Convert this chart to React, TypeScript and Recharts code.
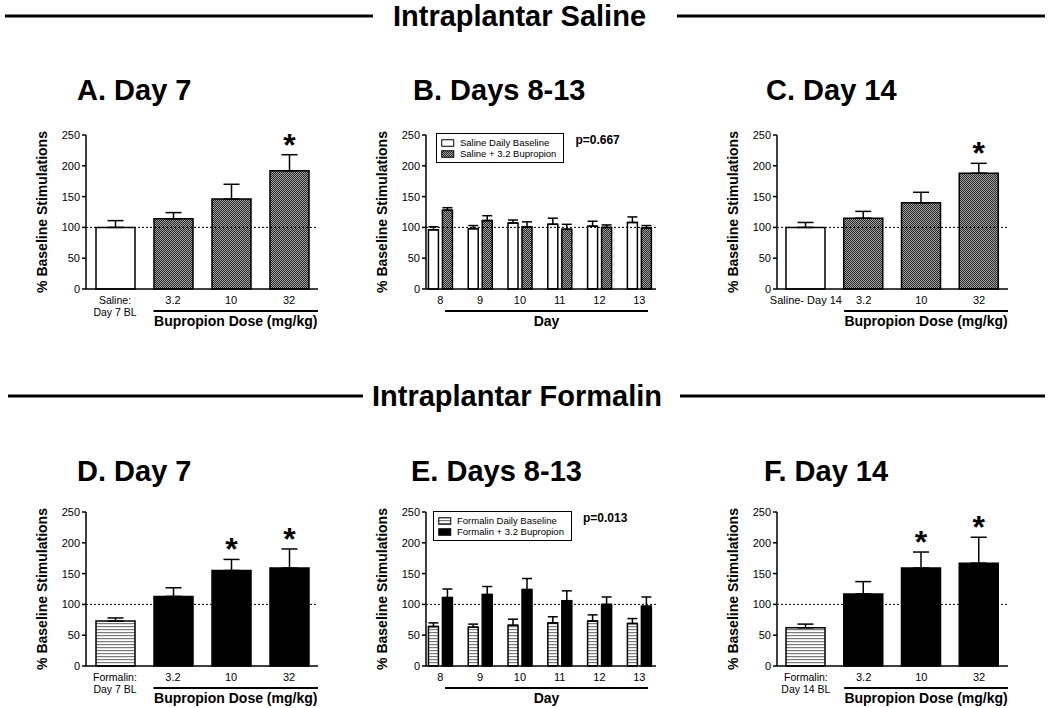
import React from 'react';
import { BarChart, Bar, XAxis, YAxis, ErrorBar, ReferenceLine, LabelList, Legend, Cell } from 'recharts';

const FONT = '"Liberation Sans", Arial, Helvetica, sans-serif';

// ---- data ----
const yTicks = [0, 50, 100, 150, 200, 250];
const doseLabels = ['3.2', '10', '32'];
const days = [8, 9, 10, 11, 12, 13];

// A. saline, day 7
const salineDay7Labels = ['Saline:\nDay 7 BL', ...doseLabels];
const salineDay7Mean = [100, 114, 146, 192];
const salineDay7Sem = [11, 10, 24, 26];
const salineDay7Sig = [false, false, false, true];

// B. saline, days 8-13
const salineDailyName = 'Saline Daily Baseline';
const salineDailyMean = [96, 98, 107, 105, 102, 108];
const salineDailySem = [5, 5, 5, 10, 8, 9];
const salineBupName = 'Saline + 3.2 Bupropion';
const salineBupMean = [128, 111, 101, 97, 100, 99];
const salineBupSem = [4, 8, 8, 8, 4, 4];
const salineP = 'p=0.667';

// C. saline, day 14
const salineDay14Labels = ['Saline- Day 14', ...doseLabels];
const salineDay14Mean = [100, 115, 140, 188];
const salineDay14Sem = [8, 11, 17, 16];
const salineDay14Sig = [false, false, false, true];

// D. formalin, day 7
const formalinDay7Labels = ['Formalin:\nDay 7 BL', ...doseLabels];
const formalinDay7Mean = [73, 113, 155, 159];
const formalinDay7Sem = [5, 14, 18, 31];
const formalinDay7Sig = [false, false, true, true];

// E. formalin, days 8-13
const formalinDailyName = 'Formalin Daily Baseline';
const formalinDailyMean = [64, 63, 66, 70, 73, 69];
const formalinDailySem = [6, 5, 10, 10, 10, 8];
const formalinBupName = 'Formalin + 3.2 Bupropion';
const formalinBupMean = [111, 116, 124, 106, 100, 97];
const formalinBupSem = [14, 13, 18, 16, 12, 15];
const formalinP = 'p=0.013';

// F. formalin, day 14
const formalinDay14Labels = ['Formalin:\nDay 14 BL', ...doseLabels];
const formalinDay14Mean = [62, 117, 159, 167];
const formalinDay14Sem = [6, 20, 26, 42];
const formalinDay14Sig = [false, false, true, true];

const WHITE = '#ffffff';
const CHECK = 'url(#chk)';
const STRIPE = 'url(#hstripe)';
const BLACK = '#000000';

const PLOT_H = 154;
const Y_AXIS_W = 86;

function doseRows(labels: string[], mean: number[], sem: number[], sig: boolean[]) {
  return labels.map((label, i) => ({ label, mean: mean[i], err: [0, sem[i]], star: sig[i] ? '*' : '' }));
}

function dayRows(bm: number[], bs: number[], dm: number[], ds: number[]) {
  return days.map((day, i) => ({ day, base: bm[i], baseErr: [0, bs[i]], drug: dm[i], drugErr: [0, ds[i]] }));
}

const MultiTick = (props: any) => {
  const { x, y, payload } = props;
  const lines = String(payload.value).split('\n');
  return (
    <text x={x} y={y} textAnchor="middle" fontSize={lines.length > 1 ? 10.5 : 11} fill="#000">
      {lines.map((l, i) => (
        <tspan key={i} x={x} dy={i === 0 ? 15 : 12}>{l}</tspan>
      ))}
    </text>
  );
};

const yLabel = (props: any) => {
  const vb = props.viewBox;
  if (!vb) return null;
  const cx = vb.x + 42;
  const cy = vb.y + vb.height / 2;
  return (
    <text x={cx} y={cy} transform={`rotate(-90 ${cx} ${cy})`} textAnchor="middle" dominantBaseline="central"
      fontSize={14} fontWeight="bold" fill="#000">
      % Baseline Stimulations
    </text>
  );
};

const doseAxisLabel = (props: any) => {
  const vb = props.viewBox;
  if (!vb) return null;
  const band = vb.width / 4;
  const x1 = vb.x + band + (band - 39) / 2;
  const x2 = vb.x + vb.width;
  return (
    <g>
      <line x1={x1} x2={x2} y1={vb.y + 22} y2={vb.y + 22} stroke="#000" strokeWidth={2} />
      <text x={(x1 + x2) / 2} y={vb.y + 37} textAnchor="middle" fontSize={14} fontWeight="bold" fill="#000">
        Bupropion Dose (mg/kg)
      </text>
    </g>
  );
};

const dayAxisLabel = (props: any) => {
  const vb = props.viewBox;
  if (!vb) return null;
  const x1 = vb.x + 19;
  const x2 = vb.x + vb.width - 8;
  return (
    <g>
      <line x1={x1} x2={x2} y1={vb.y + 22} y2={vb.y + 22} stroke="#000" strokeWidth={2} />
      <text x={(x1 + x2) / 2} y={vb.y + 37} textAnchor="middle" fontSize={14} fontWeight="bold" fill="#000">
        Day
      </text>
    </g>
  );
};

function starLabel(rows: any[]) {
  return (props: any) => {
    const { index, value } = props;
    if (!value) return null;
    const x = props.x ?? props.viewBox?.x;
    const y = props.y ?? props.viewBox?.y;
    const width = props.width ?? props.viewBox?.width;
    const height = props.height ?? props.viewBox?.height;
    const row = rows[index];
    const perUnit = height / row.mean;
    const errTop = y - row.err[1] * perUnit;
    return (
      <text x={x + width / 2} y={errTop + 1} textAnchor="middle" fontSize={32} fontWeight="bold" fill="#000">
        {value}
      </text>
    );
  };
}

function dayLegend(pText: string) {
  return (props: any) => {
    const items = [...(props.payload || [])].sort(
      (a: any, b: any) => (a.dataKey === 'base' ? 0 : 1) - (b.dataKey === 'base' ? 0 : 1)
    );
    return (
      <div style={{ display: 'flex', alignItems: 'flex-start', fontFamily: FONT, color: '#000' }}>
        <div style={{ border: '1.5px solid #000', padding: '3px 7px 3px 4px', background: '#fff' }}>
          {items.map((it: any) => (
            <div key={it.value} style={{ display: 'flex', alignItems: 'center', height: 11, fontSize: 9.5, whiteSpace: 'nowrap' }}>
              <svg width={14} height={8} style={{ marginRight: 5 }}>
                <rect x={0.75} y={0.75} width={12} height={6.5} fill={it.color} stroke="#000" strokeWidth={1} />
              </svg>
              {it.value}
            </div>
          ))}
        </div>
        <div style={{ marginLeft: 11, fontWeight: 'bold', fontSize: 12, lineHeight: '12px', marginTop: 1 }}>{pText}</div>
      </div>
    );
  };
}

const yAxisProps = {
  type: 'number' as const,
  domain: [0, 250],
  ticks: yTicks,
  width: Y_AXIS_W,
  tick: { fontSize: 11, fill: '#000' },
  tickSize: 4,
  tickMargin: 2,
  axisLine: { stroke: '#000', strokeWidth: 1.5 },
  tickLine: { stroke: '#000', strokeWidth: 1.5 },
  interval: 0 as const,
};

function DosePanel({ plotLeft, plotTop, plotW, rows, baseFill, drugFill }: any) {
  return (
    <div style={{ position: 'absolute', left: plotLeft - Y_AXIS_W, top: plotTop - 15 }}>
      <BarChart width={Y_AXIS_W + plotW + 40} height={15 + PLOT_H + 45} data={rows}
        margin={{ top: 15, right: 40, bottom: 0, left: 0 }}>
        <XAxis dataKey="label" height={45} tickLine={false} tickSize={0} tickMargin={0} interval={0}
          axisLine={{ stroke: '#000', strokeWidth: 1.5 }} tick={<MultiTick />} label={{ content: doseAxisLabel }} />
        <YAxis {...yAxisProps} label={{ content: yLabel }} />
        <ReferenceLine y={100} stroke="#000" strokeDasharray="2 2" strokeWidth={1} />
        <Bar dataKey="mean" barSize={39} stroke="#000" strokeWidth={1.5} isAnimationActive={false}>
          {rows.map((r: any, i: number) => (
            <Cell key={r.label} fill={i === 0 ? baseFill : drugFill} />
          ))}
          <ErrorBar dataKey="err" width={8} stroke="#000" strokeWidth={1.5} direction="y" />
          <LabelList dataKey="star" content={starLabel(rows)} />
        </Bar>
      </BarChart>
    </div>
  );
}

function DayPanel({ plotLeft, plotTop, plotW, rows, baseFill, drugFill, baseName, drugName, pText, legendPos }: any) {
  return (
    <div style={{ position: 'absolute', left: plotLeft - Y_AXIS_W, top: plotTop - 15 }}>
      <BarChart width={Y_AXIS_W + plotW + 40} height={15 + PLOT_H + 45} data={rows}
        margin={{ top: 15, right: 40, bottom: 0, left: 0 }} barGap={4}>
        <XAxis dataKey="day" type="number" domain={[7.64, 13.42]} ticks={days} height={45} tickLine={false}
          tickSize={0} tickMargin={0} interval={0} allowDecimals={false}
          axisLine={{ stroke: '#000', strokeWidth: 1.5 }} tick={<MultiTick />} label={{ content: dayAxisLabel }} />
        <YAxis {...yAxisProps} label={{ content: yLabel }} />
        <Legend layout="horizontal" verticalAlign="middle" align="center" content={dayLegend(pText)}
          wrapperStyle={{ left: legendPos[0], top: legendPos[1], width: 'auto', height: 'auto' }} />
        <ReferenceLine y={100} stroke="#000" strokeDasharray="2 2" strokeWidth={1} />
        <Bar dataKey="base" name={baseName} fill={baseFill} barSize={10} stroke="#000" strokeWidth={1.5}
          isAnimationActive={false}>
          <ErrorBar dataKey="baseErr" width={5} stroke="#000" strokeWidth={1.5} direction="y" />
        </Bar>
        <Bar dataKey="drug" name={drugName} fill={drugFill} barSize={10} stroke="#000" strokeWidth={1.5}
          isAnimationActive={false}>
          <ErrorBar dataKey="drugErr" width={5} stroke="#000" strokeWidth={1.5} direction="y" />
        </Bar>
      </BarChart>
    </div>
  );
}

export default function App() {
  const top = 135;
  const bottom = 512;
  return (
    <div style={{ position: 'absolute', left: 0, top: 0, width: 1050, height: 708, background: '#fff', fontFamily: FONT, overflow: 'hidden' }}>
      <svg width={1050} height={708} style={{ position: 'absolute', left: 0, top: 0 }}>
        <defs>
          <pattern id="chk" width={2} height={2} patternUnits="userSpaceOnUse">
            <rect width={2} height={2} fill="#2a2a2a" />
            <rect x={0} y={0} width={1} height={1} fill="#a0a0a0" />
            <rect x={1} y={1} width={1} height={1} fill="#a0a0a0" />
          </pattern>
          <pattern id="hstripe" width={4} height={3} patternUnits="userSpaceOnUse">
            <rect width={4} height={3} fill="#fff" />
            <rect x={0} y={0} width={4} height={1.2} fill="#7a7a7a" />
          </pattern>
        </defs>
        <g fill="#000" fontWeight="bold">
          <line x1={5} x2={373} y1={16} y2={16} stroke="#000" strokeWidth={3} />
          <text x={393} y={26} fontSize={29}>Intraplantar Saline</text>
          <line x1={677} x2={1045} y1={16} y2={16} stroke="#000" strokeWidth={3} />
          <text x={77} y={100} fontSize={29}>A. Day 7</text>
          <text x={413} y={100} fontSize={29}>B. Days 8-13</text>
          <text x={766} y={100} fontSize={29}>C. Day 14</text>

          <line x1={8} x2={363} y1={396} y2={396} stroke="#000" strokeWidth={3} />
          <text x={372} y={406} fontSize={29}>Intraplantar Formalin</text>
          <line x1={680} x2={1045} y1={396} y2={396} stroke="#000" strokeWidth={3} />
          <text x={77} y={481} fontSize={29}>D. Day 7</text>
          <text x={411} y={481} fontSize={29}>E. Days 8-13</text>
          <text x={764} y={481} fontSize={29}>F. Day 14</text>
        </g>
      </svg>

      <DosePanel plotLeft={86} plotTop={top} plotW={232}
        rows={doseRows(salineDay7Labels, salineDay7Mean, salineDay7Sem, salineDay7Sig)}
        baseFill={WHITE} drugFill={CHECK} />
      <DayPanel plotLeft={426} plotTop={top} plotW={230}
        rows={dayRows(salineDailyMean, salineDailySem, salineBupMean, salineBupSem)}
        baseFill={WHITE} drugFill={CHECK} baseName={salineDailyName} drugName={salineBupName}
        pText={salineP} legendPos={[96, 13]} />
      <DosePanel plotLeft={777} plotTop={top} plotW={231}
        rows={doseRows(salineDay14Labels, salineDay14Mean, salineDay14Sem, salineDay14Sig)}
        baseFill={WHITE} drugFill={CHECK} />

      <DosePanel plotLeft={86} plotTop={bottom} plotW={232}
        rows={doseRows(formalinDay7Labels, formalinDay7Mean, formalinDay7Sem, formalinDay7Sig)}
        baseFill={STRIPE} drugFill={BLACK} />
      <DayPanel plotLeft={426} plotTop={bottom} plotW={230}
        rows={dayRows(formalinDailyMean, formalinDailySem, formalinBupMean, formalinBupSem)}
        baseFill={STRIPE} drugFill={BLACK} baseName={formalinDailyName} drugName={formalinBupName}
        pText={formalinP} legendPos={[93, 14]} />
      <DosePanel plotLeft={777} plotTop={bottom} plotW={231}
        rows={doseRows(formalinDay14Labels, formalinDay14Mean, formalinDay14Sem, formalinDay14Sig)}
        baseFill={STRIPE} drugFill={BLACK} />
    </div>
  );
}
